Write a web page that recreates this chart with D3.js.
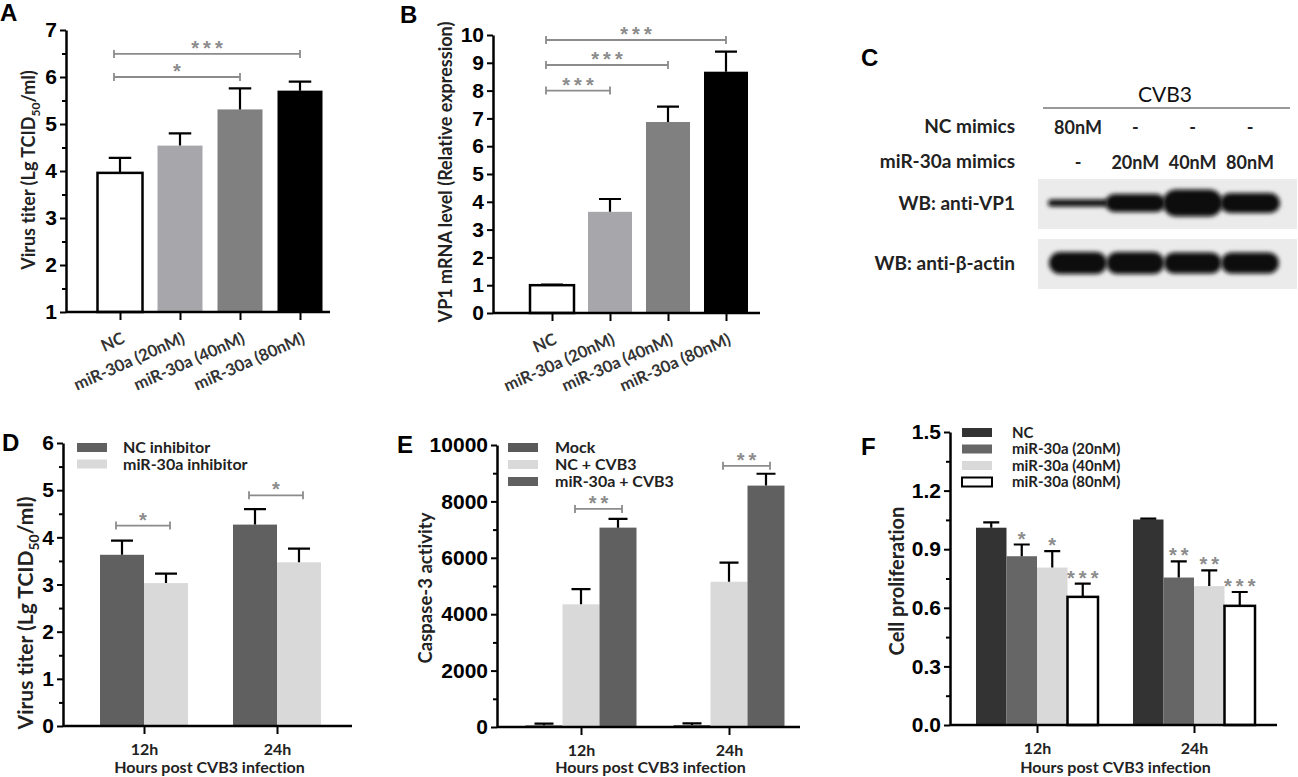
<!DOCTYPE html>
<html>
<head>
<meta charset="utf-8">
<script src="https://cdn.jsdelivr.net/npm/d3@7"></script>
<style>
  body { margin: 0; background: #fff; }
  svg { display: block; }
  text { font-variant-ligatures: none; }
  .tick text { font-family: "Liberation Sans", Arial, sans-serif; font-weight: bold; font-size: 21px; fill: #000; }
  .lbl { font-family: Lato, "Open Sans", sans-serif; font-weight: bold; fill: #222; }
  .panel { font-family: "Liberation Sans", Arial, sans-serif; font-weight: bold; font-size: 24px; fill: #000; }
  .star { font-family: "Liberation Sans", Arial, sans-serif; font-weight: bold; font-size: 20px; fill: #8c8c8c; letter-spacing: 4px; }
</style>
</head>
<body>
<script>
// ---- data ----
var doses = ['NC', 'miR-30a (20nM)', 'miR-30a (40nM)', 'miR-30a (80nM)'];

// A: virus titer by dose
var titerA = [3.96, 4.54, 5.31, 5.71];
var titerAErr = [0.32, 0.26, 0.45, 0.19];
var sigA = [[0, 3, 6.49, '***'], [0, 2, 6.0, '*']];

// B: VP1 mRNA
var vp1B = [1.0, 3.64, 6.87, 8.68];
var vp1BErr = [0.02, 0.46, 0.55, 0.72];
var sigB = [[0, 3, 9.82, '***'], [0, 2, 8.92, '***'], [0, 1, 8.0, '***']];

// C: western blot
var ncMimics = ['80nM', '-', '-', '-'];
var mirMimics = ['-', '20nM', '40nM', '80nM'];
var vp1Band = [0.26, 0.66, 1.0, 0.74];
var actinBand = [0.82, 0.82, 0.78, 0.78];

// D: inhibitor titer
var times = ['12h', '24h'];
var inhSeries = ['NC inhibitor', 'miR-30a inhibitor'];
var titerD = [[3.63, 3.03], [4.27, 3.47]];
var titerDErr = [[0.30, 0.20], [0.33, 0.29]];
var sigD = [[0, 4.25, '*'], [1, 4.89, '*']];

// E: caspase-3
var casSeries = ['Mock', 'NC + CVB3', 'miR-30a + CVB3'];
var casE = [[60, 4350, 7070], [70, 5150, 8560]];
var casEErr = [[60, 540, 310], [60, 680, 420]];
var sigE = [[0, 7733, '**'], [1, 9261, '**']];

// F: cell proliferation
var proF = [[1.01, 0.864, 0.806, 0.656], [1.052, 0.755, 0.711, 0.61]];
var proFErr = [[0.027, 0.06, 0.084, 0.068], [0.005, 0.083, 0.081, 0.071]];
var starsF = [['', '*', '*', '***'], ['', '**', '**', '***']];

var svg = d3.select('body').append('svg')
    .attr('width', 1298)
    .attr('height', 777);

var defs = svg.append('defs');
defs.append('filter').attr('id', 'blur')
    .attr('x', '-20%').attr('y', '-60%').attr('width', '140%').attr('height', '220%')
  .append('feGaussianBlur').attr('stdDeviation', 2.2);

// ---- helpers ----
function panelLetter(txt, x, y) {
  svg.append('text').attr('class', 'panel').attr('x', x).attr('y', y).text(txt);
}

function leftAxis(g, y, x, major, minor, fmt) {
  if (minor.length) {
    g.append('g')
        .attr('transform', 'translate(' + x + ',0)')
        .call(d3.axisLeft(y).tickValues(minor).tickSize(4).tickFormat(''))
        .call(function(a) { a.select('.domain').remove(); })
        .selectAll('line').attr('stroke-width', 2);
  }
  var a = g.append('g')
      .attr('transform', 'translate(' + x + ',0)')
      .call(d3.axisLeft(y).tickValues(major).tickSize(6).tickSizeOuter(0).tickPadding(3).tickFormat(fmt));
  a.select('.domain').attr('stroke-width', 2.5);
  a.selectAll('.tick line').attr('stroke-width', 2);
}

function bottomAxis(g, x, y0, xStart, xEnd) {
  g.append('line')
      .attr('x1', xStart).attr('x2', xEnd)
      .attr('y1', y0).attr('y2', y0)
      .attr('stroke', '#000').attr('stroke-width', 2.5);
  var a = g.append('g')
      .attr('transform', 'translate(0,' + y0 + ')')
      .call(d3.axisBottom(x).tickSize(8).tickSizeOuter(0));
  a.select('.domain').remove();
  a.selectAll('.tick line').attr('stroke-width', 2);
  return a;
}

function yTitle(g, x, y, size, parts) {
  var t = g.append('text')
      .attr('class', 'lbl')
      .attr('text-anchor', 'middle')
      .attr('transform', 'translate(' + x + ',' + y + ') rotate(-90)')
      .attr('dy', '0.35em')
      .style('font-size', size + 'px');
  parts.forEach(function(p) {
    var s = t.append('tspan').text(p[0]);
    if (p[1]) s.attr('dy', p[1]);
    if (p[2]) s.style('font-size', p[2]);
  });
}

function titerParts(size) {
  return [['Virus titer (Lg TCID'], ['50', size * 0.28, Math.round(size * 0.65) + 'px'], ['/ml)', -size * 0.28, size + 'px']];
}

function bracket(g, x1, x2, y, txt) {
  g.append('path')
      .attr('d', 'M' + x1 + ',' + (y - 4) + 'V' + (y + 4) + 'M' + x1 + ',' + y + 'H' + x2 + 'M' + x2 + ',' + (y - 4) + 'V' + (y + 4))
      .attr('fill', 'none').attr('stroke', '#8c8c8c').attr('stroke-width', 1.8);
  star(g, (x1 + x2) / 2, y - 10, txt);
}

function star(g, x, yc, txt) {
  if (!txt) return;
  g.append('text').attr('class', 'star')
      .attr('text-anchor', 'middle')
      .attr('x', x + 2).attr('y', yc + 11)
      .text(txt);
}

function errBar(g, x, yTop, yEnd, cap) {
  g.append('path')
      .attr('d', 'M' + x + ',' + yTop + 'V' + yEnd + 'M' + (x - cap / 2) + ',' + yEnd + 'H' + (x + cap / 2))
      .attr('fill', 'none').attr('stroke', '#000').attr('stroke-width', 2.2);
}

// ---- A & B: single bars per dose ----
var doseFill = ['#ffffff', '#a7a7ab', '#808080', '#000000'];

function doseChart(g, y, x, vals, errs, sigs, axisX, axisEnd, bw, major, minor) {
  var base = y.domain()[0];
  g.selectAll('rect.bar').data(vals).join('rect')
      .attr('class', 'bar')
      .attr('x', function(d, i) { return x(doses[i]) - bw / 2; })
      .attr('y', function(d) { return y(d); })
      .attr('width', bw)
      .attr('height', function(d) { return y(base) - y(d); })
      .attr('fill', function(d, i) { return doseFill[i]; })
      .attr('stroke', function(d, i) { return i === 0 ? '#000' : 'none'; })
      .attr('stroke-width', 2.5);
  vals.forEach(function(v, i) {
    errBar(g, x(doses[i]), y(v), y(v + errs[i]), bw * 0.5);
  });
  sigs.forEach(function(s) {
    bracket(g, x(doses[s[0]]) - 6, x(doses[s[1]]), y(s[2]), s[3]);
  });
  leftAxis(g, y, axisX, major, minor, d3.format('d'));
  var a = bottomAxis(g, x, y(base), axisX, axisEnd);
  a.selectAll('text')
      .style('font-family', 'Lato, sans-serif')
      .style('font-size', '16.5px')
      .style('fill', '#333')
      .attr('text-anchor', 'end')
      .attr('y', 0)
      .attr('dy', '0.35em')
      .attr('transform', 'translate(3,25) rotate(-24)');
}

// A
var gA = svg.append('g');
var yA = d3.scaleLinear().domain([1, 7]).range([312, 30]);
var xA = d3.scalePoint().domain(doses).range([120, 300]);
doseChart(gA, yA, xA, titerA, titerAErr, sigA, 66, 330, 45,
    d3.range(1, 8), d3.range(1.5, 7, 1));
yTitle(gA, 29, 170, 18, titerParts(18));
panelLetter('A', 0, 21);

// B
var gB = svg.append('g');
var yB = d3.scaleLinear().domain([0, 10]).range([313, 35]);
var xB = d3.scalePoint().domain(doses).range([552, 726]);
doseChart(gB, yB, xB, vp1B, vp1BErr, sigB, 493, 760, 44, d3.range(0, 11), []);
yTitle(gB, 446, 172, 18, [['VP1 mRNA level (Relative expression)']]);
panelLetter('B', 400, 23);

// ---- C: western blot ----
var gC = svg.append('g');
panelLetter('C', 861, 66);
var lane = d3.scalePoint().domain(d3.range(ncMimics.length)).range([1078, 1250]);
var bandH = d3.scaleLinear().domain([0, 1]).range([0, 27]);

gC.append('text').attr('class', 'lbl').attr('x', 1165).attr('y', 102)
    .attr('text-anchor', 'middle').style('font-size', '21px').style('font-weight', 'normal').style('fill', '#111')
    .text('CVB3');
gC.append('line').attr('x1', 1043).attr('x2', 1290).attr('y1', 108).attr('y2', 108)
    .attr('stroke', '#777').attr('stroke-width', 1.5);

var rows = [['NC mimics', 133, ncMimics], ['miR-30a mimics', 168, mirMimics]];
rows.forEach(function(r) {
  gC.append('text').attr('class', 'lbl').attr('x', 1015).attr('y', r[1])
      .attr('text-anchor', 'end').style('font-size', '19px').text(r[0]);
  gC.selectAll(null).data(r[2]).join('text')
      .attr('class', 'lbl')
      .attr('x', function(d, i) { return lane(i); })
      .attr('y', r[1] + 1)
      .attr('text-anchor', 'middle')
      .style('font-size', '18px')
      .text(function(d) { return d; });
});

var blots = [['WB: anti-VP1', 203, vp1Band, 60], ['WB: anti-\u03b2-actin', 263, actinBand, 58]];
blots.forEach(function(b) {
  gC.append('text').attr('class', 'lbl').attr('x', 1015).attr('y', b[1] + 7)
      .attr('text-anchor', 'end').style('font-size', '19px').text(b[0]);
  gC.append('rect').attr('x', 1038).attr('y', b[1] - 24).attr('width', 259).attr('height', 50)
      .attr('fill', '#ebebeb');
  gC.selectAll(null).data(b[2]).join('rect')
      .attr('x', function(d, i) { return lane(i) - b[3] / 2; })
      .attr('y', function(d) { return b[1] - bandH(d) / 2; })
      .attr('width', b[3])
      .attr('height', function(d) { return bandH(d); })
      .attr('rx', function(d) { return bandH(d) / 2; })
      .attr('fill', '#0a0a0a')
      .attr('filter', 'url(#blur)');
});

// ---- D, E, F: grouped bars ----
function groupChart(g, cfg) {
  var y = cfg.y, x0 = cfg.x0, x1 = cfg.x1;
  var bw = x1.bandwidth();
  times.forEach(function(t, gi) {
    g.selectAll(null).data(cfg.values[gi]).join('rect')
        .attr('x', function(d, si) { return x0(t) + x1(cfg.series[si]); })
        .attr('y', function(d) { return y(d); })
        .attr('width', bw)
        .attr('height', function(d) { return y(0) - y(d); })
        .attr('fill', function(d, si) { return cfg.fills[si]; })
        .attr('stroke', function(d, si) { return cfg.fills[si] === '#ffffff' ? '#000' : 'none'; })
        .attr('stroke-width', 2.5);
    cfg.values[gi].forEach(function(v, si) {
      var cx = x0(t) + x1(cfg.series[si]) + bw / 2;
      errBar(g, cx, y(v), y(v + cfg.errs[gi][si]), cfg.cap);
      if (cfg.stars) star(g, cx, y(v + cfg.errs[gi][si]) - 10, cfg.stars[gi][si]);
    });
  });
  (cfg.sigs || []).forEach(function(s) {
    var t = times[s[0]];
    var a = x0(t) + x1(cfg.series[cfg.sigPair[0]]) + bw / 2 - 6;
    var b = x0(t) + x1(cfg.series[cfg.sigPair[1]]) + bw / 2 + 4;
    bracket(g, a, b, y(s[1]), s[2]);
  });
  leftAxis(g, y, cfg.axisX, cfg.major, cfg.minor, cfg.fmt);
  var ax = bottomAxis(g, x0, y(0), cfg.axisX, cfg.axisEnd);
  ax.selectAll('text')
      .style('font-family', 'Lato, sans-serif')
      .style('font-size', '16px')
      .style('fill', '#222')
      .attr('y', 23)
      .attr('dy', '0.35em');
  g.append('text').attr('class', 'lbl')
      .attr('x', (cfg.axisX + cfg.axisEnd) / 2 + 2).attr('y', 773)
      .attr('text-anchor', 'middle').style('font-size', '16px')
      .text('Hours post CVB3 infection');
  // legend
  var ly = d3.scalePoint().domain(cfg.series).range(cfg.legendY);
  cfg.series.forEach(function(s, si) {
    g.append('rect')
        .attr('x', cfg.legendX).attr('y', ly(s) - 4.5)
        .attr('width', 30).attr('height', 9)
        .attr('fill', cfg.fills[si])
        .attr('stroke', cfg.fills[si] === '#ffffff' ? '#000' : 'none')
        .attr('stroke-width', 2);
    g.append('text').attr('class', 'lbl')
        .attr('x', cfg.legendX + cfg.legendGap).attr('y', ly(s))
        .attr('dy', '0.35em').style('font-size', cfg.legendSize + 'px')
        .text(s);
  });
}

// D
var gD = svg.append('g');
groupChart(gD, {
  y: d3.scaleLinear().domain([0, 6]).range([726, 443]),
  x0: d3.scalePoint().domain(times).range([144, 277]),
  x1: d3.scaleBand().domain(inhSeries).range([-44, 44]),
  series: inhSeries,
  values: titerD, errs: titerDErr,
  fills: ['#606060', '#d9d9d9'],
  cap: 22,
  sigs: sigD, sigPair: [0, 1],
  axisX: 63, axisEnd: 352,
  major: d3.range(0, 7), minor: d3.range(0.5, 6, 1), fmt: d3.format('d'),
  legendX: 77, legendY: [447.5, 464], legendGap: 46, legendSize: 16
});
yTitle(gD, 26, 613, 21, titerParts(21));
panelLetter('D', 2, 451);

// E
var gE = svg.append('g');
groupChart(gE, {
  y: d3.scaleLinear().domain([0, 10000]).range([727, 445]),
  x0: d3.scalePoint().domain(times).range([581, 729]),
  x1: d3.scaleBand().domain(casSeries).range([-55.5, 55.5]),
  series: casSeries,
  values: casE, errs: casEErr,
  fills: ['#5a5a5a', '#d9d9d9', '#606060'],
  cap: 19,
  sigs: sigE, sigPair: [1, 2],
  axisX: 497, axisEnd: 800,
  major: d3.range(0, 10001, 2000), minor: d3.range(1000, 10000, 2000), fmt: d3.format('d'),
  legendX: 508, legendY: [447.5, 481.5], legendGap: 47, legendSize: 16
});
yTitle(gE, 426, 588, 18.5, [['Caspase-3 activity']]);
panelLetter('E', 397, 453);

// F
var gF = svg.append('g');
groupChart(gF, {
  y: d3.scaleLinear().domain([0, 1.5]).range([725, 432]),
  x0: d3.scalePoint().domain(times).range([1037, 1194]),
  x1: d3.scaleBand().domain(doses).range([-61, 61]),
  series: doses,
  values: proF, errs: proFErr,
  fills: ['#333333', '#666666', '#d9d9d9', '#ffffff'],
  cap: 16,
  stars: starsF,
  axisX: 950, axisEnd: 1277,
  major: d3.range(0, 6).map(function(i) { return i * 0.3; }),
  minor: d3.range(0, 5).map(function(i) { return i * 0.3 + 0.15; }),
  fmt: d3.format('.1f'),
  legendX: 962, legendY: [432.5, 482], legendGap: 50, legendSize: 15
});
yTitle(gF, 897, 581, 20, [['Cell proliferation']]);
panelLetter('F', 861, 455);
</script>
</body>
</html>
